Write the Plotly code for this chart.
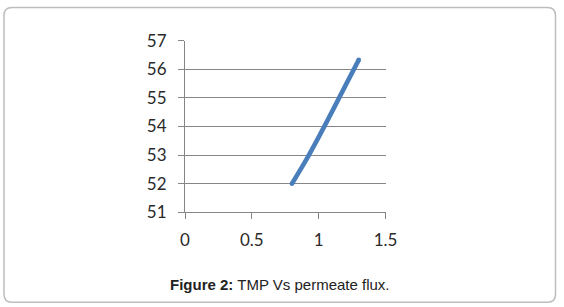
import plotly.graph_objects as go

# Data
flux = [0.8, 0.9, 1.0, 1.1, 1.2, 1.3]
tmp = [52.0, 52.78, 53.63, 54.52, 55.43, 56.33]
x_ticks = [0, 0.5, 1, 1.5]
x_tick_labels = ["0", "0.5", "1", "1.5"]
y_ticks = [51, 52, 53, 54, 55, 56, 57]
y_tick_labels = ["51", "52", "53", "54", "55", "56", "57"]
caption_bold = "Figure 2:"
caption_rest = " TMP Vs permeate flux."

W, H = 564, 307
# plot area in pixels
PL, PR, PT, PB = 185, 385.5, 40.7, 212.3

LINE_COLOR = "#4a7ebb"
GRID = "#868686"
TICKFONT = dict(family="Lato", size=17, color="#2a2a2a")

fig = go.Figure()
fig.add_trace(go.Scatter(
    x=flux, y=tmp, mode="lines",
    line=dict(color=LINE_COLOR, width=4.6, shape="spline", smoothing=0.7),
    hoverinfo="skip", showlegend=False,
))
# round end caps
fig.add_trace(go.Scatter(
    x=[flux[0], flux[-1]], y=[tmp[0], tmp[-1]], mode="markers",
    marker=dict(color=LINE_COLOR, size=4.6, line=dict(width=0)),
    hoverinfo="skip", showlegend=False,
))

fig.update_layout(
    width=W, height=H,
    margin=dict(l=0, r=0, t=0, b=0),
    paper_bgcolor="white", plot_bgcolor="white",
    showlegend=False,
    xaxis=dict(
        domain=[PL / W, PR / W],
        range=[0, 1.5], tickvals=x_ticks, ticktext=x_tick_labels,
        showgrid=False, zeroline=False,
        showline=True, linecolor=GRID, linewidth=1,
        ticks="outside", ticklen=6, tickcolor=GRID, tickwidth=1,
        tickfont=TICKFONT, automargin=False, ticklabelstandoff=6,
    ),
    yaxis=dict(
        domain=[(H - PB) / H, (H - PT) / H],
        range=[51, 57], tickvals=y_ticks, ticktext=y_tick_labels,
        showgrid=True, gridcolor=GRID, gridwidth=1, zeroline=False,
        showline=True, linecolor=GRID, linewidth=1,
        ticks="outside", ticklen=6, tickcolor=GRID, tickwidth=1,
        tickfont=TICKFONT, automargin=False, ticklabelstandoff=8,
    ),
)

# rounded border box (paper coords = whole figure since margins are 0)
bx0, bx1, by0, by1, r = 4, 555.5, 7.5, 302.3, 8
def px(x):
    return x / W
def py(y):
    return (H - y) / H
path = (
    f"M {px(bx0 + r)} {py(by0)} L {px(bx1 - r)} {py(by0)} "
    f"Q {px(bx1)} {py(by0)} {px(bx1)} {py(by0 + r)} "
    f"L {px(bx1)} {py(by1 - r)} "
    f"Q {px(bx1)} {py(by1)} {px(bx1 - r)} {py(by1)} "
    f"L {px(bx0 + r)} {py(by1)} "
    f"Q {px(bx0)} {py(by1)} {px(bx0)} {py(by1 - r)} "
    f"L {px(bx0)} {py(by0 + r)} "
    f"Q {px(bx0)} {py(by0)} {px(bx0 + r)} {py(by0)} Z"
)
fig.add_shape(type="path", path=path, xref="paper", yref="paper",
              line=dict(color="#bdbdbd", width=1.5), layer="below")

fig.add_annotation(
    x=px(280), y=py(284), xref="paper", yref="paper",
    xanchor="center", yanchor="middle", showarrow=False,
    text=f"<b>{caption_bold}</b>{caption_rest}",
    font=dict(family="Liberation Sans", size=15, color="#222222"),
)

fig.write_html("out.html")
